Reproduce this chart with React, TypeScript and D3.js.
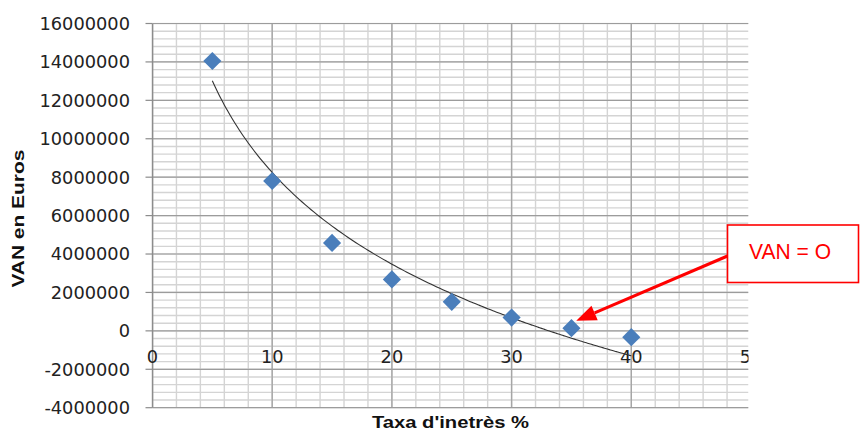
import React, { useEffect, useRef } from 'react';
import * as d3 from 'd3';

// taux d'intérêt (%) et VAN
const rates = [5, 10, 15, 20, 25, 30, 35, 40];
const npv = [14050000, 7800000, 4580000, 2680000, 1510000, 690000, 140000, -330000];

const xTicks = [0, 10, 20, 30, 40, 50];
const yTicks = [-4000000, -2000000, 0, 2000000, 4000000, 6000000, 8000000, 10000000, 12000000, 14000000, 16000000];

const calloutText = 'VAN = O';
const calloutRate = 35.4;
const calloutValue = 520000;

const App: React.FC = () => {
    const svgRef = useRef<SVGSVGElement>(null);

    useEffect(() => {
        if (!svgRef.current) return;
        const svg = d3.select(svgRef.current);
        svg.selectAll('*').remove();

        const left = 152.5, right = 748.5, top = 23.5, bottom = 407.7;

        const x = d3.scaleLinear().domain([0, 50]).range([left, 751]);
        const y = d3.scaleLinear().domain([-4000000, 16000000]).range([bottom, top]);

        svg.append('rect').attr('width', 861).attr('height', 432).attr('fill', '#fff');

        const defs = svg.append('defs');
        defs.append('clipPath').attr('id', 'plot')
            .append('rect').attr('x', left).attr('y', top - 1).attr('width', right - left).attr('height', bottom - top + 2);
        defs.append('clipPath').attr('id', 'labels')
            .append('rect').attr('x', 0).attr('y', 0).attr('width', right).attr('height', 432);

        const grid = svg.append('g').attr('clip-path', 'url(#plot)');

        // minor grid
        grid.selectAll('line.vmin')
            .data(d3.range(0, 51, 2))
            .join('line')
            .attr('x1', d => x(d)).attr('x2', d => x(d))
            .attr('y1', top).attr('y2', bottom)
            .attr('stroke', '#d4d4d4').attr('stroke-width', 1.4);
        grid.selectAll('line.hmin')
            .data(d3.range(-4000000, 16000001, 400000))
            .join('line')
            .attr('x1', left).attr('x2', right)
            .attr('y1', d => y(d)).attr('y2', d => y(d))
            .attr('stroke', '#d4d4d4').attr('stroke-width', 1.4);

        // major grid
        grid.selectAll('line.vmaj')
            .data(xTicks)
            .join('line')
            .attr('x1', d => x(d)).attr('x2', d => x(d))
            .attr('y1', top).attr('y2', bottom)
            .attr('stroke', '#a6a6a6').attr('stroke-width', 1.4);
        grid.selectAll('line.hmaj')
            .data(yTicks)
            .join('line')
            .attr('x1', left).attr('x2', right)
            .attr('y1', d => y(d)).attr('y2', d => y(d))
            .attr('stroke', '#9c9c9c').attr('stroke-width', 1.2);

        // y axis
        const yAxis = svg.append('g');
        yAxis.append('line')
            .attr('x1', left).attr('x2', left).attr('y1', top).attr('y2', bottom)
            .attr('stroke', '#8c8c8c').attr('stroke-width', 1.4);
        yAxis.selectAll('line.tick')
            .data(yTicks)
            .join('line')
            .attr('x1', left - 7).attr('x2', left)
            .attr('y1', d => y(d)).attr('y2', d => y(d))
            .attr('stroke', '#8c8c8c').attr('stroke-width', 1.2);
        yAxis.selectAll('text')
            .data(yTicks)
            .join('text')
            .attr('x', 130).attr('y', d => y(d))
            .attr('dy', '0.36em')
            .attr('text-anchor', 'end')
            .attr('font-family', 'DejaVu Sans')
            .attr('font-size', 17.8)
            .attr('fill', '#222')
            .text(d => String(d));

        // x labels, sitting under the zero line
        svg.append('g').attr('clip-path', 'url(#labels)')
            .selectAll('text')
            .data(xTicks)
            .join('text')
            .attr('x', d => x(d)).attr('y', y(0) + 32)
            .attr('text-anchor', 'middle')
            .attr('font-family', 'DejaVu Sans')
            .attr('font-size', 17.8)
            .attr('fill', '#222')
            .text(d => String(d));

        // logarithmic trend line (least squares on ln x)
        const lx = rates.map(Math.log);
        const mx = d3.mean(lx) as number;
        const my = d3.mean(npv) as number;
        const a = d3.sum(lx, (v, i) => (v - mx) * (npv[i] - my)) / d3.sum(lx, v => (v - mx) ** 2);
        const b = my - a * mx;
        const trendX = d3.range(rates[0], rates[rates.length - 1] + 0.001, 0.25);
        const line = d3.line<number>()
            .x(d => x(d))
            .y(d => y(a * Math.log(d) + b))
            .curve(d3.curveMonotoneX);
        svg.append('path')
            .datum(trendX)
            .attr('fill', 'none')
            .attr('stroke', '#333')
            .attr('stroke-width', 1.1)
            .attr('d', line);

        // points
        const diamond = d3.symbol(d3.symbolSquare, 165);
        svg.append('g').selectAll('path')
            .data(rates)
            .join('path')
            .attr('d', diamond)
            .attr('transform', (d, i) => `translate(${x(d)},${y(npv[i])}) rotate(45)`)
            .attr('fill', '#4A7EBB');

        // callout
        const boxX = 727.5, boxY = 225, boxW = 131, boxH = 57.5;
        const tailX = boxX, tailY = 256;
        const tipX = x(calloutRate), tipY = y(calloutValue);
        const ang = Math.atan2(tipY - tailY, tipX - tailX);
        const headLen = 20, headHalf = 8;
        const bx = tipX - headLen * Math.cos(ang), by = tipY - headLen * Math.sin(ang);
        svg.append('line')
            .attr('x1', tailX).attr('y1', tailY).attr('x2', bx).attr('y2', by)
            .attr('stroke', '#FF0000').attr('stroke-width', 3);
        svg.append('path')
            .attr('d', d3.line()([
                [tipX, tipY],
                [bx + headHalf * Math.sin(ang), by - headHalf * Math.cos(ang)],
                [bx - headHalf * Math.sin(ang), by + headHalf * Math.cos(ang)],
            ]) + 'Z')
            .attr('fill', '#FF0000');

        svg.append('rect')
            .attr('x', boxX).attr('y', boxY).attr('width', boxW).attr('height', boxH)
            .attr('fill', '#fff').attr('stroke', '#FF0000').attr('stroke-width', 1.6);
        svg.append('text')
            .attr('x', 749).attr('y', 259)
            .attr('font-family', 'Liberation Sans')
            .attr('font-size', 21.5)
            .attr('fill', '#FF0000')
            .attr('textLength', 82)
            .attr('lengthAdjust', 'spacingAndGlyphs')
            .text(calloutText);

        // axis titles
        svg.append('text')
            .attr('x', (left + right) / 2).attr('y', 428)
            .attr('text-anchor', 'middle')
            .attr('font-family', 'Liberation Sans')
            .attr('font-weight', 'bold')
            .attr('font-size', 16)
            .attr('fill', '#111')
            .attr('textLength', 157)
            .attr('lengthAdjust', 'spacingAndGlyphs')
            .text("Taxa d'inetrès %");
        svg.append('text')
            .attr('transform', `translate(24,${(top + bottom) / 2 + 3}) rotate(-90)`)
            .attr('text-anchor', 'middle')
            .attr('font-family', 'Liberation Sans')
            .attr('font-weight', 'bold')
            .attr('font-size', 16)
            .attr('fill', '#111')
            .attr('textLength', 138)
            .attr('lengthAdjust', 'spacingAndGlyphs')
            .text('VAN en Euros');
    }, []);

    return (
        <svg ref={svgRef} width={861} height={432}
            style={{ position: 'absolute', left: 0, top: 0, display: 'block' }} />
    );
};

export default App;
